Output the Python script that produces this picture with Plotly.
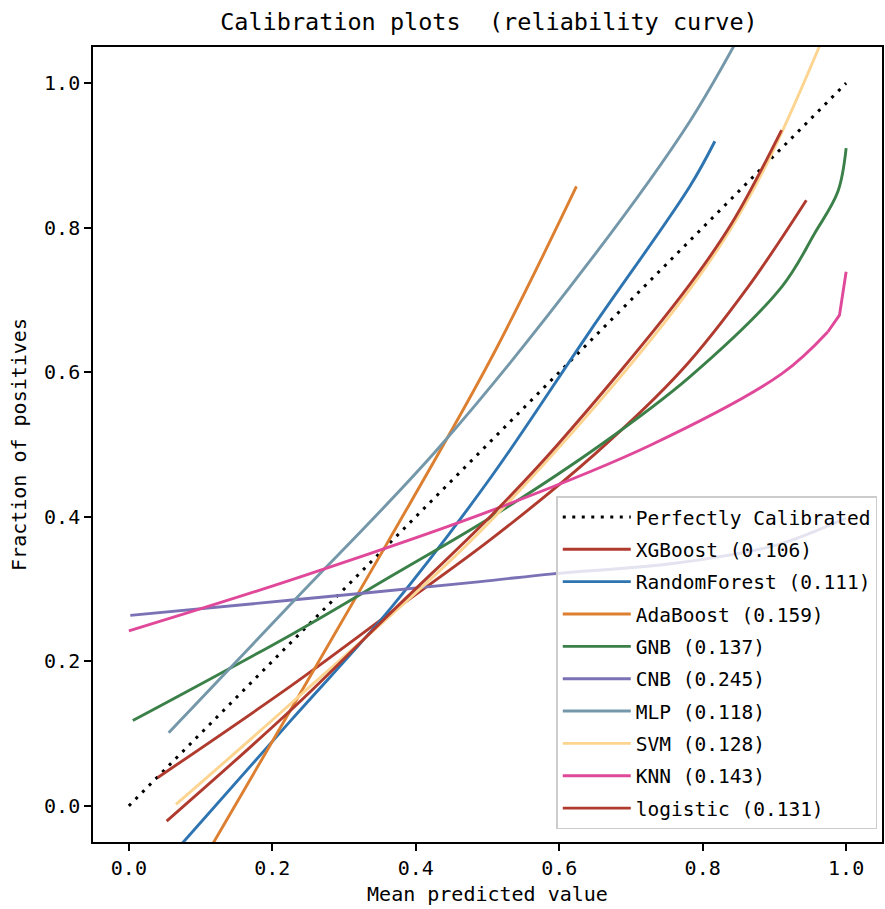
import plotly.graph_objects as go

# ---- data ----
diag_x = [0.0, 1.0]
diag_y = [0.0, 1.0]

xgb_x = [0.040, 0.2275, 0.366, 0.505, 0.650, 0.771, 0.8636, 0.9445]
xgb_y = [0.039, 0.167, 0.268, 0.369, 0.487, 0.603, 0.7185, 0.838]

rf_x = [0.060, 0.2275, 0.366, 0.505, 0.6436, 0.782, 0.817]
rf_y = [-0.068, 0.120, 0.2746, 0.455, 0.658, 0.857, 0.9196]

ada_x = [0.105, 0.2275, 0.357, 0.505, 0.624]
ada_y = [-0.073, 0.136, 0.358, 0.619, 0.857]

gnb_x = [0.0055, 0.2275, 0.366, 0.505, 0.657, 0.782, 0.9105, 0.956, 0.9885, 1.0]
gnb_y = [0.118, 0.2376, 0.318, 0.3994, 0.499, 0.5936, 0.7185, 0.792, 0.850, 0.910]

cnb_x = [0.002, 0.2275, 0.487, 0.591, 0.764, 0.90, 0.988, 1.0]
cnb_y = [0.2635, 0.2848, 0.310, 0.321, 0.336, 0.360, 0.393, 0.398]

mlp_x = [0.0555, 0.2275, 0.433, 0.6436, 0.782, 0.870]
mlp_y = [0.101, 0.281, 0.4965, 0.755, 0.947, 1.100]

svm_x = [0.0656, 0.2275, 0.505, 0.771, 0.873, 0.975]
svm_y = [0.002, 0.143, 0.395, 0.700, 0.857, 1.080]

# KNN: smooth body, then short straight segments at the high end
knn_x = [0.0, 0.2275, 0.505, 0.727, 0.9105, 0.9746]
knn_y = [0.242, 0.313, 0.4085, 0.499, 0.598, 0.656]
knn_tail_x = [0.9746, 0.9907, 1.0]
knn_tail_y = [0.656, 0.679, 0.739]

log_x = [0.0527, 0.2275, 0.366, 0.505, 0.597, 0.771, 0.8405, 0.910]
log_y = [-0.021, 0.134, 0.268, 0.4015, 0.499, 0.707, 0.806, 0.935]

names = ["XGBoost (0.106)", "RandomForest (0.111)", "AdaBoost (0.159)",
         "GNB (0.137)", "CNB (0.245)", "MLP (0.118)", "SVM (0.128)",
         "KNN (0.143)", "logistic (0.131)"]
xs = [xgb_x, rf_x, ada_x, gnb_x, cnb_x, mlp_x, svm_x, knn_x, log_x]
ys = [xgb_y, rf_y, ada_y, gnb_y, cnb_y, mlp_y, svm_y, knn_y, log_y]
colors = ["#b03a2e", "#2e74b1", "#dd7f30", "#3a8048", "#7b72b6",
          "#7498aa", "#fdd591", "#e0489a", "#b03a2e"]

tick_vals = [0.0, 0.2, 0.4, 0.6, 0.8, 1.0]
tick_text = ["0.0", "0.2", "0.4", "0.6", "0.8", "1.0"]

FONT = "DejaVu Sans Mono"

fig = go.Figure()
fig.add_trace(go.Scatter(x=diag_x, y=diag_y, mode="lines",
                         name="Perfectly Calibrated", legendgroup="g0",
                         line=dict(color="black", width=3, dash="3px,6.5px")))
for i, (n, x, y, c) in enumerate(zip(names, xs, ys, colors)):
    fig.add_trace(go.Scatter(x=x, y=y, mode="lines", name=n,
                             legendgroup="g%d" % (i + 1),
                             line=dict(color=c, width=2.9, shape="spline", smoothing=1.0)))
    if n.startswith("KNN"):
        fig.add_trace(go.Scatter(x=knn_tail_x, y=knn_tail_y, mode="lines",
                                 legendgroup="g%d" % (i + 1), showlegend=False,
                                 line=dict(color=c, width=2.9)))

axis_common = dict(showgrid=False, zeroline=False, showline=True, linecolor="black",
                   linewidth=1.6, mirror=True, ticks="outside", ticklen=7,
                   tickwidth=1.6, tickcolor="black",
                   tickvals=tick_vals, ticktext=tick_text,
                   tickfont=dict(family=FONT, size=20, color="black"))

fig.update_layout(
    width=885, height=909,
    margin=dict(l=93, r=1, t=47, b=67),
    paper_bgcolor="white", plot_bgcolor="white",
    title=dict(text="Calibration plots  (reliability curve)", x=0.5525, xanchor="center",
               y=0.976, yanchor="middle",
               font=dict(family=FONT, size=23.5, color="black")),
    xaxis=dict(range=[-0.05, 1.05],
               title=dict(text="Mean predicted value", standoff=8,
                          font=dict(family=FONT, size=20, color="black")),
               **axis_common),
    yaxis=dict(range=[-0.05, 1.05],
               title=dict(text="Fraction of positives", standoff=12,
                          font=dict(family=FONT, size=20, color="black")),
               **axis_common),
    legend=dict(x=0.994, xanchor="right", y=0.016, yanchor="bottom",
                bgcolor="rgba(255,255,255,0.8)", bordercolor="#cccccc", borderwidth=1.5,
                font=dict(family=FONT, size=19.5, color="black"),
                tracegroupgap=4, itemwidth=68),
    showlegend=True,
)

fig.write_html("out.html")
